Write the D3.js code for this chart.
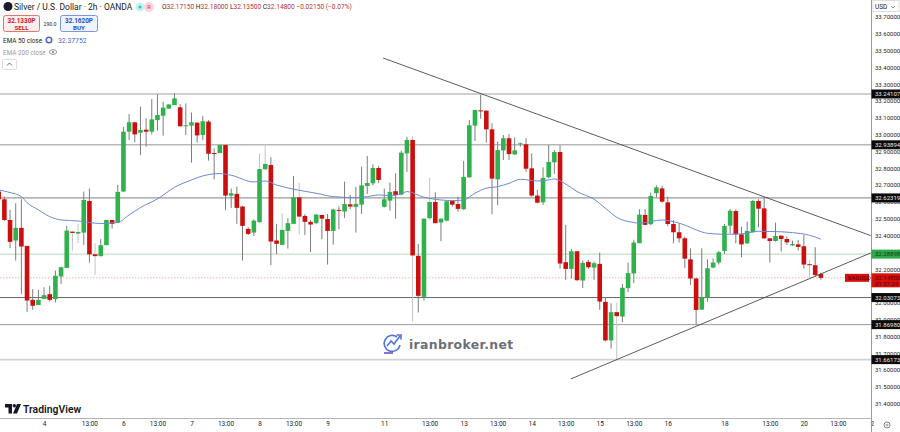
<!DOCTYPE html>
<html>
<head>
<meta charset="utf-8">
<script src="https://cdn.jsdelivr.net/npm/d3@7"></script>
<style>
  html, body { margin: 0; padding: 0; background: #fff; }
  text { font-family: Roboto, "Liberation Sans", sans-serif; }
</style>
</head>
<body>
<div id="chart"></div>
<script>
////////////////////////////////////////////////////////////
//////////////////////// Data //////////////////////////////
////////////////////////////////////////////////////////////
var opens = [32.661,32.615,32.492,32.370,32.445,32.338,32.017,31.986,32.023,32.051,
  32.021,32.156,32.207,32.423,32.411,32.417,32.605,32.288,32.277,32.342,
  32.492,32.477,32.661,33.017,33.073,33.011,33.029,33.017,33.086,33.112,
  33.154,33.175,33.162,33.049,33.053,33.071,32.997,33.077,32.890,32.890,
  32.938,32.637,32.647,32.572,32.439,32.417,32.479,32.793,32.819,32.370,
  32.344,32.427,32.469,32.627,32.516,32.481,32.473,32.522,32.498,32.427,
  32.552,32.542,32.585,32.570,32.583,32.694,32.710,32.801,32.570,32.607,
  32.663,32.643,32.888,32.968,32.279,32.035,32.502,32.599,32.477,32.488,
  32.605,32.587,32.556,32.746,33.053,33.144,33.142,33.031,32.734,32.906,
  32.978,32.882,32.942,32.942,32.799,32.637,32.597,32.746,32.835,32.896,
  32.241,32.201,32.306,32.132,32.243,32.209,32.231,32.005,31.776,31.944,
  31.918,32.087,32.174,32.354,32.522,32.467,32.651,32.680,32.597,32.468,
  32.419,32.383,32.258,32.144,31.959,32.029,32.209,32.239,32.308,32.458,
  32.545,32.407,32.353,32.419,32.605,32.561,32.383,32.367,32.399,32.379,
  32.341,32.347,32.336,32.229,32.223,32.171];
var highs = [32.671,32.631,32.552,32.591,32.615,32.338,32.081,32.077,32.092,32.100,
  32.191,32.215,32.457,32.423,32.469,32.661,32.679,32.354,32.378,32.492,
  32.492,32.700,33.047,33.122,33.073,33.166,33.096,33.211,33.239,33.195,
  33.179,33.245,33.181,33.185,33.130,33.071,33.110,33.086,32.918,32.938,
  32.938,32.679,32.690,32.576,32.449,32.496,32.888,32.944,32.865,32.469,
  32.532,32.502,32.754,32.714,32.526,32.492,32.528,32.522,32.528,32.560,
  32.572,32.720,32.641,32.690,32.809,32.873,32.823,32.813,32.679,32.714,
  32.770,32.904,32.987,32.991,32.350,32.500,32.742,32.657,32.500,32.607,
  32.611,32.631,32.843,33.086,33.146,33.237,33.142,33.067,32.958,32.997,
  33.003,32.983,32.952,32.978,32.888,32.671,32.805,32.938,32.908,32.936,
  32.463,32.320,32.306,32.251,32.255,32.245,32.298,32.031,31.997,32.001,
  32.112,32.239,32.374,32.556,32.556,32.655,32.698,32.696,32.631,32.492,
  32.472,32.393,32.324,32.148,32.324,32.258,32.264,32.308,32.468,32.557,
  32.555,32.452,32.482,32.611,32.615,32.627,32.383,32.476,32.399,32.393,
  32.369,32.373,32.403,32.254,32.330,32.179];
var lows = [32.615,32.486,32.324,32.251,32.053,31.944,31.958,31.986,32.023,32.007,
  32.001,32.112,32.207,32.310,32.354,32.344,32.239,32.166,32.275,32.342,
  32.441,32.473,32.661,32.968,32.954,32.878,32.928,33.001,33.023,32.993,
  33.154,33.175,33.049,32.997,32.833,32.952,32.968,32.845,32.734,32.890,
  32.552,32.564,32.469,32.251,32.403,32.397,32.473,32.789,32.223,32.290,
  32.340,32.322,32.469,32.405,32.403,32.302,32.469,32.378,32.227,32.346,
  32.437,32.504,32.556,32.417,32.528,32.647,32.698,32.710,32.566,32.548,
  32.500,32.639,32.778,31.888,31.942,32.013,32.492,32.473,32.366,32.484,
  32.572,32.542,32.552,32.742,32.962,33.094,32.952,32.526,32.580,32.849,
  32.849,32.878,32.928,32.778,32.631,32.591,32.581,32.740,32.766,32.203,
  32.136,32.144,32.130,32.087,32.201,32.136,31.958,31.770,31.728,31.665,
  31.885,32.063,32.116,32.354,32.461,32.461,32.627,32.595,32.456,32.353,
  32.357,32.207,32.106,31.868,31.957,32.005,32.205,32.227,32.290,32.413,
  32.353,32.270,32.349,32.419,32.448,32.379,32.239,32.363,32.304,32.343,
  32.337,32.310,32.203,32.149,32.155,32.136];
var closes = [32.615,32.492,32.362,32.445,32.334,32.013,31.982,32.017,32.045,32.017,
  32.160,32.211,32.429,32.415,32.421,32.611,32.288,32.277,32.342,32.492,
  32.469,32.659,33.017,33.073,33.001,33.027,33.017,33.090,33.116,33.160,
  33.179,33.215,33.049,33.055,33.073,32.995,33.079,32.886,32.886,32.938,
  32.637,32.651,32.564,32.457,32.409,32.488,32.795,32.825,32.364,32.350,
  32.433,32.473,32.627,32.512,32.481,32.465,32.524,32.500,32.427,32.554,
  32.546,32.587,32.572,32.587,32.698,32.712,32.801,32.730,32.615,32.659,
  32.641,32.892,32.968,32.281,32.041,32.500,32.599,32.473,32.500,32.603,
  32.583,32.558,32.748,33.055,33.146,33.138,33.031,32.738,32.908,32.978,
  32.884,32.906,32.948,32.797,32.637,32.595,32.742,32.837,32.896,32.233,
  32.201,32.306,32.134,32.237,32.211,32.235,32.007,31.776,31.944,31.920,
  32.089,32.176,32.358,32.524,32.463,32.635,32.686,32.601,32.468,32.419,
  32.383,32.262,32.144,31.957,32.031,32.205,32.239,32.300,32.456,32.547,
  32.407,32.347,32.427,32.605,32.559,32.383,32.367,32.397,32.379,32.359,
  32.349,32.332,32.227,32.225,32.165,32.148];
// bars whose wicks look washed out in the screenshot
var fadedBars = [13,14,17,46,47,50,53,73,76,109,143];

var emaBars = [0,2,4,5,7,9,11,14,16,18,21,23,25,28,31,34,36,39,41,45,47,49,52,56,59,63,65,67,69,71,72,75,78,80,82,84,86,88,90,92,95,97,98,100,102,105,107,109,112,113,117,119,121,123,125,128,131,134,137,140,143,145];
var emaValues = [32.671,32.655,32.631,32.595,32.552,32.512,32.492,32.486,32.477,32.471,32.477,32.522,32.566,32.617,32.686,32.730,32.754,32.768,32.758,32.718,32.724,32.700,32.675,32.651,32.631,32.625,32.631,32.641,32.637,32.647,32.661,32.627,32.611,32.607,32.611,32.651,32.681,32.690,32.710,32.734,32.724,32.730,32.736,32.706,32.661,32.615,32.562,32.508,32.477,32.473,32.492,32.482,32.462,32.433,32.413,32.407,32.409,32.425,32.423,32.417,32.401,32.378];

var levelPrices = [33.24107,32.93894,32.62319,32.28898,32.03073,31.86980,31.66173];
var levelLabels = ['33.24107','32.93894','32.62319','32.28898','32.03073','31.86980','31.66173'];
var levelColors = ['#a0a0a0','#969696','#9a9a9a','#b4d8b4','#666666','#9a9a9a','#d2d2d2'];
var levelWidths = [1,1,1.4,1,1,1,1.6];

var priceTicks = [33.7,33.6,33.5,33.4,33.3,33.2,33.1,33.0,32.9,32.8,32.7,32.6,32.5,32.4,32.2,32.0,31.9,31.8,31.7,31.6,31.5,31.4];
var timeBars = [8,16,22,28,34,40,46,52,58,68,76,82,88,94,100,106,112,118,128,136,142,148,154];
var timeLabels = ['4','13:00','6','13:00','7','13:00','8','13:00','9','11','13:00','13','13:00','14','13:00','15','13:00','16','18','13:00','20','13:00','2'];

// trend lines, as [bar, price] end points
var upperTrend = [[67.8,33.455],[153.8,32.399]];
var lowerTrend = [[100.9,31.547],[153.8,32.296]];

var lastPrice = 32.148;

////////////////////////////////////////////////////////////
//////////////////////// Set-Up ////////////////////////////
////////////////////////////////////////////////////////////
var width = 900, height = 432, plotRight = 871, plotBottom = 418;
var upColor = '#2fb24c', downColor = '#cc0e0e';

var x = d3.scaleLinear().domain([0, 154]).range([-1.3, 871.9]);
var y = d3.scaleLinear().domain([31.6, 32.7]).range([370, 185]);

var svg = d3.select('#chart').append('svg')
  .attr('width', width)
  .attr('height', height)
  .style('display', 'block');

svg.append('defs').append('clipPath').attr('id', 'plot')
  .append('rect').attr('width', plotRight).attr('height', plotBottom);

var plot = svg.append('g').attr('clip-path', 'url(#plot)');

// Horizontal levels
plot.selectAll('.level').data(levelPrices).enter().append('line')
  .attr('class', 'level')
  .attr('x1', 0).attr('x2', plotRight)
  .attr('y1', function(d) { return y(d); })
  .attr('y2', function(d) { return y(d); })
  .style('stroke', function(d, i) { return levelColors[i]; })
  .style('stroke-width', function(d, i) { return levelWidths[i]; });

// Last price line
plot.append('line')
  .attr('x1', 0).attr('x2', plotRight)
  .attr('y1', y(lastPrice)).attr('y2', y(lastPrice))
  .style('stroke', '#eeb4b4').style('stroke-width', 1).style('stroke-dasharray', '1.5 1.5');

// Candles
var bars = d3.range(opens.length);
plot.selectAll('.wick').data(bars).enter().append('line')
  .attr('class', 'wick')
  .attr('x1', function(i) { return x(i); })
  .attr('x2', function(i) { return x(i); })
  .attr('y1', function(i) { return y(highs[i]); })
  .attr('y2', function(i) { return y(lows[i]); })
  .style('stroke', function(i) { return fadedBars.indexOf(i) > -1 ? '#c4c4c4' : '#7c7c7c'; })
  .style('stroke-width', 1);

plot.selectAll('.body').data(bars).enter().append('rect')
  .attr('class', 'body')
  .attr('x', function(i) { return x(i) - 2.3; })
  .attr('width', 4.6)
  .attr('y', function(i) { return y(Math.max(opens[i], closes[i])); })
  .attr('height', function(i) { return Math.max(1, Math.abs(y(opens[i]) - y(closes[i]))); })
  .style('fill', function(i) { return closes[i] >= opens[i] ? upColor : downColor; });

// EMA 50
var emaLine = d3.line()
  .x(function(d, i) { return x(emaBars[i]); })
  .y(function(d) { return y(d); })
  .curve(d3.curveMonotoneX);

plot.append('path')
  .datum(emaValues)
  .attr('d', emaLine)
  .style('fill', 'none')
  .style('stroke', '#6d8ad0')
  .style('stroke-width', 1);

// Trend lines
[upperTrend, lowerTrend].forEach(function(t) {
  plot.append('line')
    .attr('x1', x(t[0][0])).attr('y1', y(t[0][1]))
    .attr('x2', x(t[1][0])).attr('y2', y(t[1][1]))
    .style('stroke', '#4a4a4a')
    .style('stroke-width', 0.9);
});

////////////////////////////////////////////////////////////
//////////////////////// Axes //////////////////////////////
////////////////////////////////////////////////////////////
var yAxis = d3.axisRight(y)
  .tickValues(priceTicks)
  .tickSize(0)
  .tickPadding(4)
  .tickFormat(d3.format('.5f'));

var yG = svg.append('g').attr('transform', 'translate(' + plotRight + ',0)').call(yAxis);
yG.select('.domain').remove();
yG.selectAll('text').style('font-size', '6px').style('fill', '#222');

var xAxis = d3.axisBottom(x)
  .tickValues(timeBars)
  .tickSize(0)
  .tickPadding(3)
  .tickFormat(function(d) { return timeLabels[timeBars.indexOf(d)]; });

var xG = svg.append('g').attr('transform', 'translate(0,' + plotBottom + ')').call(xAxis);
xG.select('.domain').remove();
xG.selectAll('text').style('font-size', '6.5px').style('fill', '#222');

// Frame of the axes
svg.append('line').attr('x1', plotRight + 0.5).attr('x2', plotRight + 0.5).attr('y1', 0).attr('y2', height)
  .style('stroke', '#9a9a9a');
svg.append('line').attr('x1', 0).attr('x2', plotRight).attr('y1', plotBottom + 0.5).attr('y2', plotBottom + 0.5)
  .style('stroke', '#b5b5b5');

// Price tags
function priceTag(price, label, fill, color) {
  svg.append('rect').attr('x', plotRight + 0.5).attr('y', y(price) - 4.5).attr('width', 28.5).attr('height', 9).style('fill', fill);
  svg.append('text').attr('x', plotRight + 4).attr('y', y(price) + 2.2).text(label)
    .style('font-size', '6px').style('fill', color);
}
levelPrices.forEach(function(p, i) {
  if (i == 3) priceTag(p, levelLabels[i], '#2fa84a', '#0c3d12');
  else priceTag(p, levelLabels[i], '#0b0b0b', '#e8e8e8');
});

svg.append('rect').attr('x', plotRight + 0.5).attr('y', y(lastPrice) - 4.5).attr('width', 28.5).attr('height', 14).style('fill', '#d60f0f');
svg.append('text').attr('x', plotRight + 4).attr('y', y(lastPrice) + 2.2).text('32.14800').style('font-size', '6px').style('fill', '#5a0000');
svg.append('text').attr('x', plotRight + 4).attr('y', y(lastPrice) + 8.2).text('01:57:24').style('font-size', '6px').style('fill', '#5a0000');
svg.append('rect').attr('x', 845).attr('y', y(lastPrice) - 4).attr('width', 24).attr('height', 8).style('fill', '#d60f0f');
svg.append('text').attr('x', 847.5).attr('y', y(lastPrice) + 2.2).text('XAGUSD').style('font-size', '6px').style('fill', '#5a0000');

// USD box and settings icon
svg.append('rect').attr('x', 873).attr('y', 0.5).attr('width', 26).attr('height', 11).style('fill', '#fff').style('stroke', '#ddd');
svg.append('text').attr('x', 875).attr('y', 9).text('USD').style('font-size', '6.5px').style('fill', '#222');
svg.append('path').attr('d', 'M891 6 L893 8 L895 6').style('fill', 'none').style('stroke', '#444').style('stroke-width', 0.6);
svg.append('circle').attr('cx', 887).attr('cy', 425).attr('r', 3).style('fill', 'none').style('stroke', '#666').style('stroke-width', 0.8);
svg.append('circle').attr('cx', 887).attr('cy', 425).attr('r', 1).style('fill', 'none').style('stroke', '#666').style('stroke-width', 0.6);

////////////////////////////////////////////////////////////
//////////////////////// Header ////////////////////////////
////////////////////////////////////////////////////////////
svg.append('circle').attr('cx', 8).attr('cy', 6.5).attr('r', 4.5).style('fill', '#1c1c2a');
svg.append('text').attr('x', 14).attr('y', 10).text('Silver / U.S. Dollar · 2h · OANDA')
  .style('font-size', '8.5px').style('fill', '#222');

svg.append('circle').attr('cx', 140).attr('cy', 7).attr('r', 4.5).style('fill', '#c6f1ee');
svg.append('circle').attr('cx', 140).attr('cy', 7).attr('r', 1.6).style('fill', '#31c5b8');
svg.append('circle').attr('cx', 149).attr('cy', 7).attr('r', 5).style('fill', '#fcd5dc');
svg.append('text').attr('x', 149).attr('y', 9).attr('text-anchor', 'middle').text('R').style('font-size', '5.5px').style('fill', '#c2405a');

var ohlcParts = [['O', '#222'], ['32.17150', '#b5342a'], [' H', '#222'], ['32.18000', '#b5342a'], [' L', '#222'], ['32.13500', '#b5342a'], [' C', '#222'], ['32.14800', '#b5342a'], [' −0.02150 (−0.07%)', '#b5342a']];
var ohlc = svg.append('text').attr('x', 162).attr('y', 9).style('font-size', '6.6px').attr('xml:space', 'preserve');
ohlcParts.forEach(function(p) {
  ohlc.append('tspan').text(p[0]).style('fill', p[1]);
});

// Sell / buy buttons
svg.append('rect').attr('x', 3.5).attr('y', 15.5).attr('width', 36).attr('height', 16).attr('rx', 2).style('fill', '#fdeeee').style('stroke', '#d9534f').style('stroke-width', 0.8);
svg.append('text').attr('x', 21.5).attr('y', 22.5).attr('text-anchor', 'middle').text('32.1330P').style('font-size', '6.4px').style('font-weight', 'bold').style('fill', '#c8202a');
svg.append('text').attr('x', 21.5).attr('y', 29.5).attr('text-anchor', 'middle').text('SELL').style('font-size', '6.2px').style('font-weight', 'bold').style('fill', '#c8202a');
svg.append('text').attr('x', 50).attr('y', 26).attr('text-anchor', 'middle').text('290.0').style('font-size', '5.2px').style('fill', '#222');
svg.append('rect').attr('x', 60.5).attr('y', 15.5).attr('width', 37).attr('height', 16).attr('rx', 2).style('fill', '#eef3fd').style('stroke', '#5b7fd6').style('stroke-width', 0.8);
svg.append('text').attr('x', 79).attr('y', 22.5).attr('text-anchor', 'middle').text('32.1620P').style('font-size', '6.4px').style('font-weight', 'bold').style('fill', '#2b4fb8');
svg.append('text').attr('x', 79).attr('y', 29.5).attr('text-anchor', 'middle').text('BUY').style('font-size', '6.2px').style('font-weight', 'bold').style('fill', '#2b4fb8');

// Indicator legend
svg.append('text').attr('x', 3).attr('y', 43).text('EMA 50 close').style('font-size', '6.4px').style('fill', '#222');
svg.append('circle').attr('cx', 49).attr('cy', 40).attr('r', 2.8).style('fill', 'none').style('stroke', '#5560c8').style('stroke-width', 1.5);
svg.append('text').attr('x', 58).attr('y', 43).text('32.37752').style('font-size', '6.8px').style('fill', '#4a68c4');
svg.append('text').attr('x', 3).attr('y', 55).text('EMA 200 close').style('font-size', '6.4px').style('fill', '#999');
svg.append('ellipse').attr('cx', 53).attr('cy', 52).attr('rx', 3.6).attr('ry', 2.4).style('fill', 'none').style('stroke', '#777').style('stroke-width', 0.8);
svg.append('circle').attr('cx', 53).attr('cy', 52).attr('r', 1.1).style('fill', '#777');
svg.append('rect').attr('x', 2.5).attr('y', 59.5).attr('width', 14).attr('height', 10).attr('rx', 1).style('fill', '#fff').style('stroke', '#ddd');
svg.append('path').attr('d', 'M7 65.5 L9.5 63 L12 65.5').style('fill', 'none').style('stroke', '#444').style('stroke-width', 0.8);

////////////////////////////////////////////////////////////
//////////////////////// Logos /////////////////////////////
////////////////////////////////////////////////////////////
var tv = svg.append('g').style('fill', '#131722');
tv.append('path').attr('d', 'M5 404 H12 V413.5 H8.5 V407.5 H5 Z');
tv.append('circle').attr('cx', 14.3).attr('cy', 405.8).attr('r', 1.7);
tv.append('path').attr('d', 'M17 404 H21 L17 413.5 H13 Z');
svg.append('text').attr('x', 23).attr('y', 412.5).text('TradingView')
  .style('font-size', '10.4px').style('font-weight', '600').style('fill', '#131722');

var ib = svg.append('g').style('fill', 'none').style('stroke', '#4f72dc').style('stroke-width', 1.6);
ib.append('path').attr('d', 'M397 337 A8 8 0 1 0 400 345');
ib.append('path').attr('d', 'M387 346 L391 341 L394 344 L400 336');
ib.append('path').attr('d', 'M396.5 335 H401 V339.5');
ib.append('path').attr('d', 'M384 353 H393').style('stroke', '#6a4fd0');
svg.append('text').attr('x', 409).attr('y', 348.5).text('iranbroker.net')
  .style('font-family', '"DejaVu Sans", sans-serif')
  .style('letter-spacing', '0.35px')
  .style('font-size', '12.4px').style('font-weight', 'bold').style('fill', '#6b6f76');
</script>
</body>
</html>
